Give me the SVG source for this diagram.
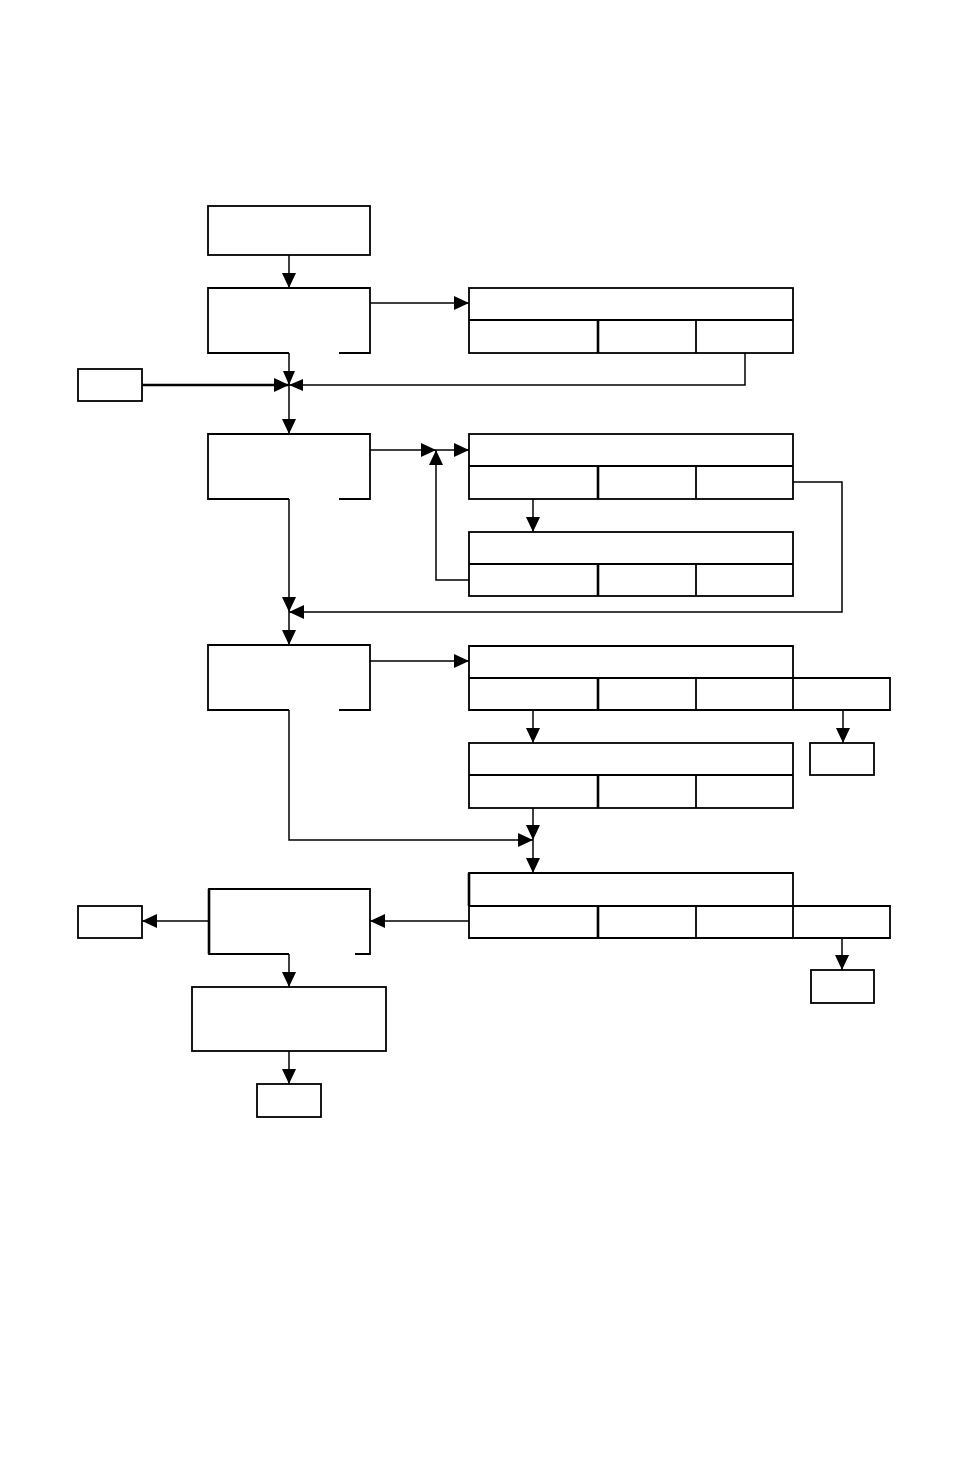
<svg xmlns="http://www.w3.org/2000/svg" width="954" height="1474" viewBox="0 0 954 1474">
<style>
.b{fill:none;stroke:#000;stroke-width:1.8}
.d{fill:none;stroke:#000;stroke-width:2.6}
.c{fill:none;stroke:#000;stroke-width:1.5}
</style>
<defs>
<marker id="ah" markerUnits="userSpaceOnUse" markerWidth="15" markerHeight="14" refX="15" refY="7" orient="auto"><path d="M0,0 L15,7 L0,14 z" fill="#000"/></marker>
<marker id="as" markerUnits="userSpaceOnUse" markerWidth="14" markerHeight="12" refX="14" refY="6" orient="auto"><path d="M0,0 L14,6 L0,12 z" fill="#000"/></marker>
</defs>
<rect width="954" height="1474" fill="#fff"/>
<g id="nodeA"><rect class="b" x="208" y="206" width="162" height="49"/></g>
<g id="nodeB"><path class="b" d="M289,353 H208 V288 H370 V353 H339"/></g>
<g id="inL"><rect class="b" x="78" y="369" width="64" height="32"/></g>
<g id="t1"><rect class="b" x="469" y="288" width="324" height="65"/><path class="b" d="M469,320 H793 M696,320 V353"/><path class="d" d="M598,320 V353"/></g>
<g id="nodeC"><path class="b" d="M289,499 H208 V434 H370 V499 H339"/></g>
<g id="t2"><rect class="b" x="469" y="434" width="324" height="65"/><path class="b" d="M469,466 H793 M696,466 V499"/><path class="d" d="M598,466 V499"/></g>
<g id="t3"><rect class="b" x="469" y="532" width="324" height="64"/><path class="b" d="M469,564 H793 M696,564 V596"/><path class="d" d="M598,564 V596"/></g>
<g id="nodeD"><path class="b" d="M289,710 H208 V645 H370 V710 H339"/></g>
<g id="t4"><path class="b" d="M469,678 V646 H793 V678 M469,678 H890 V710 H469 Z M696,678 V710 M793,678 V710"/><path class="d" d="M598,678 V710"/></g>
<g id="sm1"><rect class="b" x="810" y="743" width="64" height="32"/></g>
<g id="t5"><rect class="b" x="469" y="743" width="324" height="65"/><path class="b" d="M469,775 H793 M696,775 V808"/><path class="d" d="M598,775 V808"/></g>
<g id="t6"><path class="b" d="M469,906 V873 H793 V906 M469,906 H890 V938 H469 Z M696,906 V938 M793,906 V938"/><path class="d" d="M598,906 V938 M469,873 V906"/></g>
<g id="sm2"><rect class="b" x="811" y="970" width="63" height="33"/></g>
<g id="nodeE"><path class="b" d="M289,954 H209 V889 H370 V954 H355"/><path class="d" d="M209,889 V954"/></g>
<g id="outL"><rect class="b" x="78" y="906" width="64" height="32"/></g>
<g id="nodeF"><rect class="b" x="192" y="987" width="194" height="64"/></g>
<g id="nodeG"><rect class="b" x="257" y="1084" width="64" height="33"/></g>
<g id="connectors">
<path class="c" d="M289,255 V288" marker-end="url(#ah)"/>
<path class="c" d="M289,353 V385" marker-end="url(#as)"/>
<path class="c" d="M289,385 V434" marker-end="url(#ah)"/>
<path class="d" d="M142,385 H289" marker-end="url(#ah)"/>
<path class="c" d="M745,353 V385 H289" marker-end="url(#as)"/>
<path class="c" d="M370,303 H469" marker-end="url(#ah)"/>
<path class="c" d="M370,450 H436" marker-end="url(#ah)"/>
<path class="c" d="M436,450 H469" marker-end="url(#ah)"/>
<path class="c" d="M469,580 H436 V450" marker-end="url(#ah)"/>
<path class="c" d="M533,499 V532" marker-end="url(#ah)"/>
<path class="c" d="M793,482 H842 V612 H289" marker-end="url(#ah)"/>
<path class="c" d="M289,499 V612" marker-end="url(#ah)"/>
<path class="c" d="M289,612 V645" marker-end="url(#ah)"/>
<path class="c" d="M370,661 H469" marker-end="url(#ah)"/>
<path class="c" d="M533,710 V743" marker-end="url(#ah)"/>
<path class="c" d="M843,710 V743" marker-end="url(#ah)"/>
<path class="c" d="M533,808 V840" marker-end="url(#ah)"/>
<path class="c" d="M289,710 V840 H533" marker-end="url(#ah)"/>
<path class="c" d="M533,840 V873" marker-end="url(#ah)"/>
<path class="c" d="M469,921 H370" marker-end="url(#ah)"/>
<path class="c" d="M209,921 H142" marker-end="url(#ah)"/>
<path class="c" d="M842,938 V970" marker-end="url(#ah)"/>
<path class="c" d="M289,954 V987" marker-end="url(#ah)"/>
<path class="c" d="M289,1051 V1084" marker-end="url(#ah)"/>
</g>
</svg>
